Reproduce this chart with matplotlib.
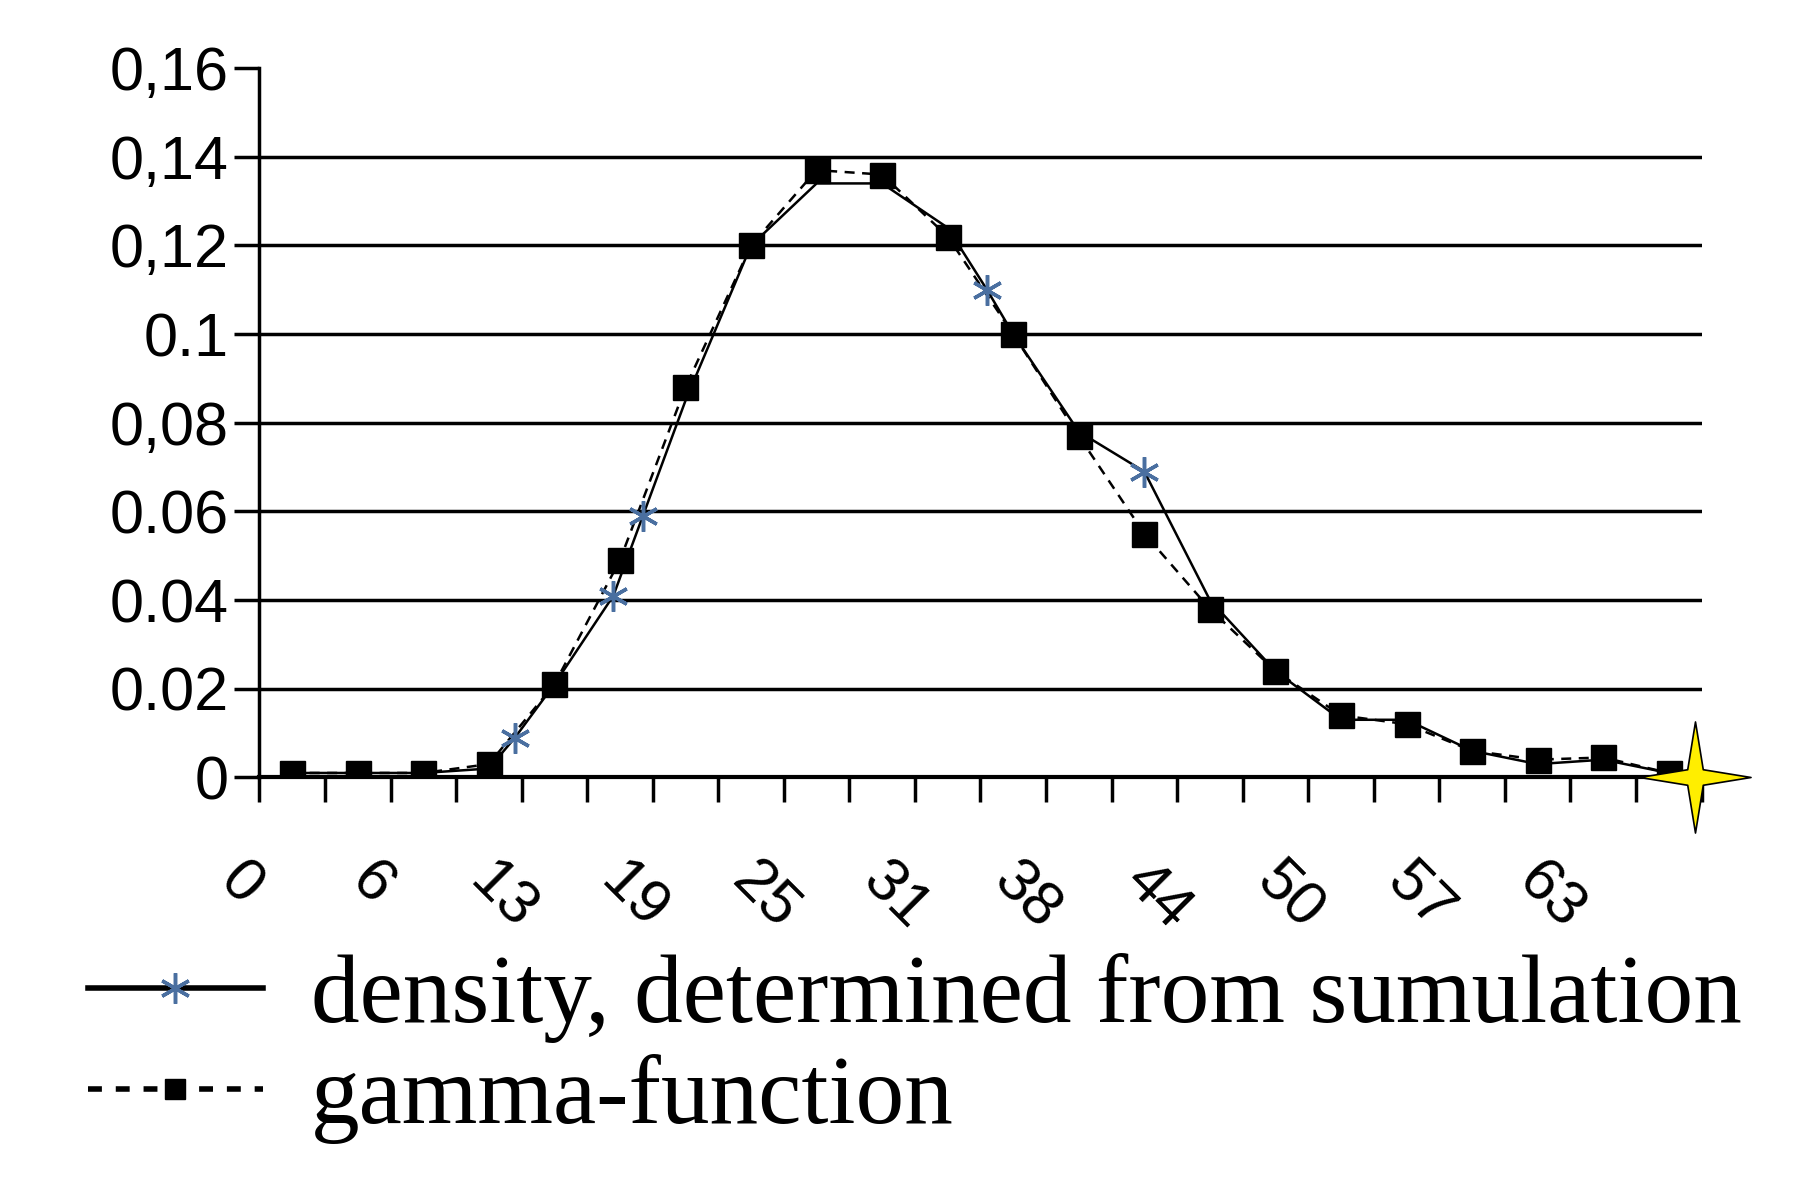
import matplotlib
matplotlib.use("Agg")
import matplotlib.pyplot as plt
from matplotlib.lines import Line2D
from matplotlib.path import Path

# categories (between-tick positions) and labels
cat_pos = [i + 0.5 for i in range(22)]
xtick_labels = ["0", "6", "13", "19", "25", "31", "38", "44", "50", "57", "63"]
ytick_vals = [0, 0.02, 0.04, 0.06, 0.08, 0.10, 0.12, 0.14, 0.16]
ytick_labels = ["0", "0.02", "0.04", "0.06", "0,08", "0.1", "0,12", "0,14", "0,16"]

gamma_y = [0.001, 0.001, 0.001, 0.003, 0.021, 0.049, 0.088, 0.120, 0.137, 0.136, 0.122,
           0.100, 0.077, 0.055, 0.038, 0.024, 0.014, 0.012, 0.006, 0.004, 0.0045, 0.001]

sim_x = [0.45, 1.45, 2.5, 3.5, 3.9, 4.5, 5.4, 5.85, 6.5, 7.5, 8.5, 9.5, 10.5, 11.1, 11.5,
         12.5, 13.5, 14.5, 15.5, 16.5, 17.5, 18.5, 19.5, 20.5, 21.5]
sim_y = [0.001, 0.001, 0.001, 0.002, 0.009, 0.021, 0.041, 0.059, 0.085, 0.120, 0.134, 0.134,
         0.124, 0.110, 0.100, 0.078, 0.069, 0.040, 0.024, 0.013, 0.013, 0.006, 0.003, 0.004, 0.001]
sim_marked = [4, 6, 7, 13, 16]
end_star = (21.9, 0.0)

# thin 4-point star
k = 0.14
star = Path([(0, 1), (k, k), (1, 0), (k, -k), (0, -1), (-k, -k), (-1, 0), (-k, k), (0, 1)],
            [Path.MOVETO] + [Path.LINETO] * 7 + [Path.CLOSEPOLY])

fig = plt.figure(figsize=(18.14, 11.96), dpi=100)
ax = fig.add_axes([0.143, 0.35, 0.795, 0.593])

for v in ytick_vals[1:-1]:
    ax.axhline(v, color="black", lw=2.5, zorder=1)

ax.plot(cat_pos, gamma_y, color="black", lw=1.8, ls=(0, (4, 3)), marker="s", ms=18, zorder=3)
ax.plot(sim_x, sim_y, color="black", lw=1.8, zorder=2)
ax.plot([sim_x[i] for i in sim_marked], [sim_y[i] for i in sim_marked], ls="none",
        marker=(6, 2, 0), ms=22, mew=2.5, mec="#4a6fa0", zorder=4)
ax.plot([end_star[0]], [end_star[1]], marker=star, ms=80, color="#ffee00", mec="black",
        mew=1.2, clip_on=False, zorder=5)

ax.set_xlim(0, 22)
ax.set_ylim(0, 0.16)
for s in ["top", "right"]:
    ax.spines[s].set_visible(False)
ax.spines["left"].set_linewidth(2.5)
ax.spines["bottom"].set_linewidth(3)
ax.set_yticks(ytick_vals)
ax.set_yticklabels(ytick_labels, fontsize=44, family="Liberation Sans")
ax.set_xticks(range(0, 23))
ax.set_xticklabels([])
ax.tick_params(axis="y", length=18, width=2.5, pad=4)
ax.tick_params(axis="x", length=18, width=2.5)
for kk, lab in enumerate(xtick_labels):
    ax.text(2 * kk - 0.3, -0.017, lab, rotation=-45, ha="center", va="top", fontsize=44,
            family="Liberation Sans", transform=ax.transData)

h1 = Line2D([], [], color="black", lw=4, marker=(6, 2, 0), ms=22, mec="#4a6fa0", mew=2.5)
h2 = Line2D([], [], color="black", lw=4, ls=(0, (2.5, 2.5)), marker="s", ms=14)
fig.legend([h1, h2], ["density, determined from sumulation", "gamma-function"],
           loc="lower left", bbox_to_anchor=(0.0, -0.03), frameon=False,
           prop={"family": "Liberation Serif", "size": 70}, handlelength=1.8,
           labelspacing=0.12, handletextpad=0.5)

fig.savefig("out.png", dpi=100)
